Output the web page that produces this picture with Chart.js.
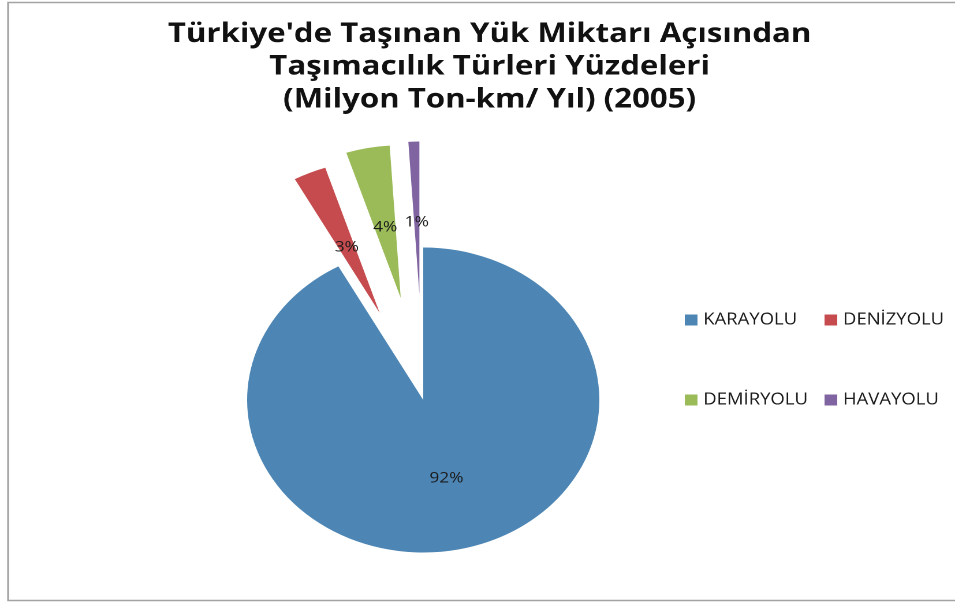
<!DOCTYPE html>
<html>
<head>
<meta charset="utf-8">
<title>Taşımacılık Türleri Yüzdeleri</title>
<script src="https://cdn.jsdelivr.net/npm/chart.js@4.4.0/dist/chart.umd.min.js"></script>
<style>
  html, body { margin: 0; padding: 0; background: #fff; }
</style>
</head>
<body>
<!-- the original picture is stretched sideways, so the canvas is drawn narrower and the inline style widens it -->
<canvas id="mycanvas" width="827" height="603" style="display:block;width:955px;height:603px;"></canvas>
<script>
var titleLines = ["Türkiye'de Taşınan Yük Miktarı Açısından", "Taşımacılık Türleri Yüzdeleri", "(Milyon Ton-km/ Yıl) (2005)"];
var categories = ["KARAYOLU", "DENİZYOLU", "DEMİRYOLU", "HAVAYOLU"];
var percentages = [92, 3, 4, 1];
var colors = ["#4D86B4", "#C54B4E", "#9BBB59", "#8064A2"];

// pulls slices out along their middle angle, radius stays the same (like excel's explosion)
var explodePlugin = {
  id: 'explode',
  afterDatasetUpdate: function(chart, args) {
    var ds = chart.data.datasets[args.index];
    args.meta.data.forEach(function(arc, i) {
      var d = (ds.explode && ds.explode[i]) || 0;
      var mid = (arc.startAngle + arc.endAngle) / 2;
      arc.x += Math.cos(mid) * d;
      arc.y += Math.sin(mid) * d;
    });
  }
};

var framePlugin = {
  id: 'frame',
  beforeDraw: function(chart) {
    var ctx = chart.ctx;
    ctx.save();
    ctx.fillStyle = '#fff';
    ctx.fillRect(0, 0, chart.width, chart.height);
    ctx.strokeStyle = '#a3a3a3';
    ctx.lineWidth = 1.6;
    ctx.beginPath();
    ctx.moveTo(chart.width + 5, 2.5);
    ctx.lineTo(7, 2.5);
    ctx.lineTo(7, 600.5);
    ctx.lineTo(chart.width + 5, 600.5);
    ctx.stroke();
    ctx.restore();
  }
};

var titlePlugin = {
  id: 'bigTitle',
  afterDraw: function(chart) {
    var ctx = chart.ctx;
    var baselines = [42, 74.5, 107.5];
    ctx.save();
    ctx.font = 'bold 27px "Open Sans"';
    ctx.fillStyle = '#111';
    ctx.textAlign = 'center';
    ctx.textBaseline = 'alphabetic';
    for (var i = 0; i < titleLines.length; i++) {
      ctx.fillText(titleLines[i], 424, baselines[i]);
    }
    ctx.restore();
  }
};

var pctLabelPlugin = {
  id: 'pctLabels',
  afterDatasetsDraw: function(chart) {
    var ctx = chart.ctx;
    var meta = chart.getDatasetMeta(0);
    var explode = chart.data.datasets[0].explode;
    ctx.save();
    ctx.font = '15px "Open Sans"';
    ctx.fillStyle = '#1b1b1b';
    ctx.textAlign = 'center';
    ctx.textBaseline = 'middle';
    meta.data.forEach(function(arc, i) {
      var mid = (arc.startAngle + arc.endAngle) / 2;
      // pulled out slices keep their label a bit nearer the tip
      var r = arc.outerRadius * (explode[i] ? 0.47 : 0.53);
      ctx.fillText(percentages[i] + '%', arc.x + Math.cos(mid) * r, arc.y + Math.sin(mid) * r);
    });
    ctx.restore();
  }
};

// 2 x 2 legend on the right
var gridLegendPlugin = {
  id: 'gridLegend',
  afterDraw: function(chart) {
    var ctx = chart.ctx;
    var colX = [593, 714];
    var rowY = [320, 400];
    ctx.save();
    ctx.font = '16px "Open Sans"';
    ctx.textBaseline = 'middle';
    ctx.textAlign = 'left';
    categories.forEach(function(name, i) {
      var x = colX[i % 2];
      var y = rowY[Math.floor(i / 2)];
      ctx.fillStyle = colors[i];
      ctx.fillRect(x, y - 5.5, 11, 11);
      ctx.fillStyle = '#1b1b1b';
      ctx.fillText(name, x + 16, y);
    });
    ctx.restore();
  }
};

var ctx = document.getElementById('mycanvas');

var PieGraph = new Chart(ctx, {
  type: 'pie',
  data: {
    labels: categories,
    datasets: [
      {
        data: percentages,
        backgroundColor: colors,
        borderWidth: 0,
        explode: [0, 95, 104, 106],
        clip: false
      }
    ]
  },
  options: {
    responsive: false,
    devicePixelRatio: 2,
    animation: false,
    events: [],
    radius: 152.5,
    layout: {
      padding: { left: 166.5, right: 260.5, top: 200, bottom: 3 }
    },
    plugins: {
      legend: { display: false },
      title: { display: false },
      tooltip: { enabled: false }
    }
  },
  plugins: [framePlugin, explodePlugin, pctLabelPlugin, titlePlugin, gridLegendPlugin]
});
</script>
</body>
</html>
